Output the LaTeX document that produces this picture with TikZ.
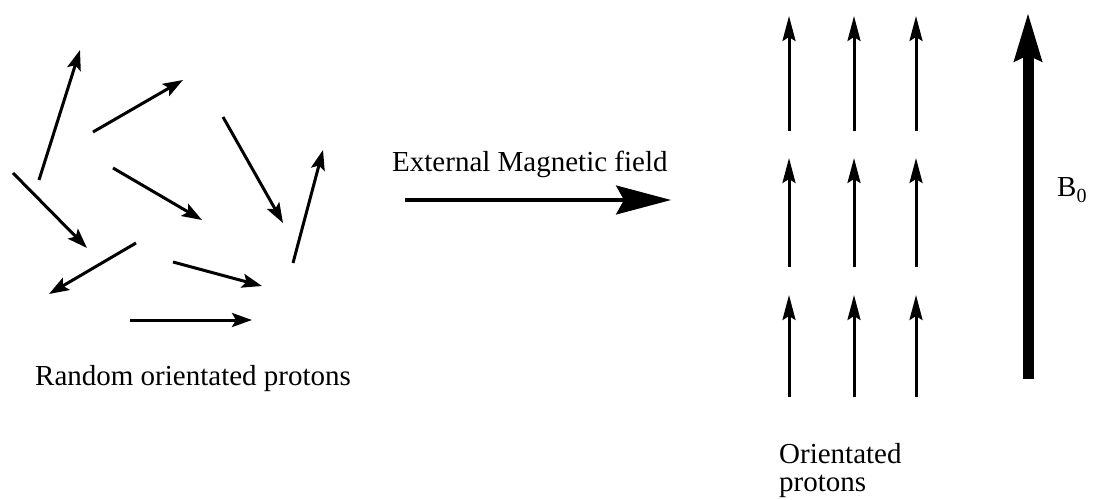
\documentclass[tikz,border=0pt]{standalone}
\usepackage{fontspec}
\setmainfont{Liberation Serif}
\usetikzlibrary{arrows.meta}
\tikzset{
  randarr/.style={line width=3pt, -{Stealth[length=20pt,width=14pt,inset=4pt]}},
  uparr/.style={line width=3pt, -{Stealth[length=25pt,width=13pt,inset=4pt]}},
  fieldarr/.style={line width=3.2pt, -{Stealth[length=55pt,width=29pt,inset=8pt]}},
  bigarr/.style={line width=11pt, -{Stealth[length=48pt,width=26pt,inset=5pt]}},
  lbl/.style={inner sep=0pt, font=\fontsize{29}{28}\selectfont},
}
\begin{document}
\begin{tikzpicture}[x=1pt,y=-1pt]
\useasboundingbox (0,0) rectangle (1099,500);
% random protons
\coordinate (a1s) at (39,180);  \coordinate (a1e) at (80,50);
\coordinate (a2s) at (93,132);  \coordinate (a2e) at (183,80);
\coordinate (a3s) at (223,117); \coordinate (a3e) at (283,223);
\coordinate (a4s) at (293,263); \coordinate (a4e) at (323,150);
\coordinate (a5s) at (13,173);  \coordinate (a5e) at (87,248);
\coordinate (a6s) at (113,168); \coordinate (a6e) at (202,220);
\coordinate (a7s) at (136,243); \coordinate (a7e) at (49,294);
\coordinate (a8s) at (173,262); \coordinate (a8e) at (262,286);
\coordinate (a9s) at (130,320); \coordinate (a9e) at (252,320);
\foreach \i in {1,...,9} \draw[randarr] (a\i s) -- (a\i e);
\node[lbl, anchor=base west] (rlbl) at (35,385) {Random orientated protons};
% external field arrow
\coordinate (ms) at (405,200); \coordinate (me) at (671,200);
\draw[fieldarr] (ms) -- (me);
\node[lbl, anchor=base west] (mlbl) at (392,171) {External Magnetic field};
% oriented protons
\foreach \c/\x in {1/789,2/854,3/916}{
  \coordinate (r1s\c) at (\x,131); \coordinate (r1e\c) at (\x,16);
  \coordinate (r2s\c) at (\x,267); \coordinate (r2e\c) at (\x,158);
  \coordinate (r3s\c) at (\x,397); \coordinate (r3e\c) at (\x,295);
  \draw[uparr] (r1s\c) -- (r1e\c);
  \draw[uparr] (r2s\c) -- (r2e\c);
  \draw[uparr] (r3s\c) -- (r3e\c);
}
\node[lbl, anchor=north west, align=left] (olbl) at (779,443) {Orientated\\protons};
% B0
\coordinate (bs) at (1028,379); \coordinate (be) at (1028,12);
\draw[bigarr] (bs) -- (be);
\node[lbl, anchor=base west] (blbl) at (1057,196) {B\raisebox{-0.22em}{\fontsize{20}{20}\selectfont 0}};
\end{tikzpicture}
\end{document}
